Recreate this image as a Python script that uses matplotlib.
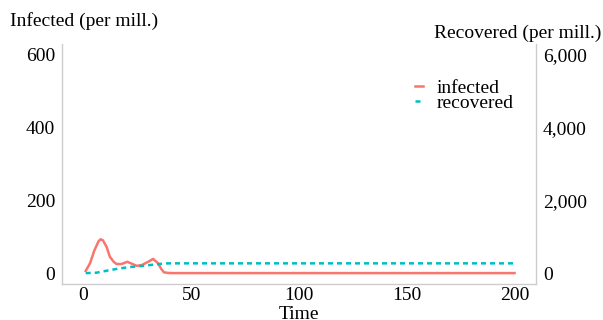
import matplotlib.pyplot as plt
from matplotlib.ticker import FuncFormatter

plt.rcParams['font.family'] = ['Liberation Serif', 'DejaVu Serif']

time_inf = [1, 3, 5, 7, 8, 9, 10.7, 12.2, 14, 15.3, 17.6, 20.3, 22.3, 24.6, 27, 30, 32.3, 34.6, 36, 37.3, 40, 60, 100, 150, 200]
infected = [6, 27, 62, 88, 93, 90, 72, 45, 31, 25, 25, 31, 26, 20, 22, 31, 39, 27, 12, 2, 0, 0, 0, 0, 0]

time_rec = [1, 3, 5.9, 9, 12.2, 16, 20, 24, 27.7, 31, 33.9, 36, 37.7, 45, 100, 150, 200]
recovered = [0, 3, 10, 45, 83, 120, 156, 180, 200, 222, 240, 255, 267, 268, 268, 268, 268]

red = '#F8766D'
cyan = '#00BFC4'
grey = '#cccccc'

fig = plt.figure(figsize=(6.03, 3.2), dpi=100)
ax = fig.add_axes([0.1028, 0.1125, 0.7862, 0.75])
ax2 = ax.twinx()

l1, = ax.plot(time_inf, infected, color=red, lw=1.8, label='infected')
l2, = ax2.plot(time_rec, recovered, color=cyan, lw=1.8, ls=(0, (2, 1.6)), label='recovered')

ax.set_xlim(-10, 210)
ax.set_ylim(-30, 630)
ax2.set_ylim(-300, 6300)
ax.set_xticks([0, 50, 100, 150, 200])
ax.set_yticks([0, 200, 400, 600])
ax2.set_yticks([0, 2000, 4000, 6000])
ax2.yaxis.set_major_formatter(FuncFormatter(lambda v, p: '{:,.0f}'.format(v)))

for a in (ax, ax2):
    a.spines['top'].set_visible(False)
    for s in ('left', 'right', 'bottom'):
        a.spines[s].set_color(grey)
        a.spines[s].set_linewidth(1.0)
    a.tick_params(length=0, labelsize=14, pad=5)
ax.tick_params(axis='x', pad=2)
ax.spines['right'].set_visible(False)
ax2.spines['left'].set_visible(False)
ax2.spines['bottom'].set_visible(False)

fig.text(0.017, 0.935, 'Infected (per mill.)', fontsize=14, va='center', ha='left')
fig.text(0.998, 0.895, 'Recovered (per mill.)', fontsize=14, va='center', ha='right')
fig.text(299 / 603, 0.004, 'Time', fontsize=14, va='baseline', ha='center')

ax2.legend(handles=[l1, l2], loc='upper left', bbox_to_anchor=(0.725, 0.895),
           frameon=False, fontsize=14, handlelength=0.4, handletextpad=0.7,
           labelspacing=-0.1, borderpad=0)

fig.savefig('out.png', dpi=100)
